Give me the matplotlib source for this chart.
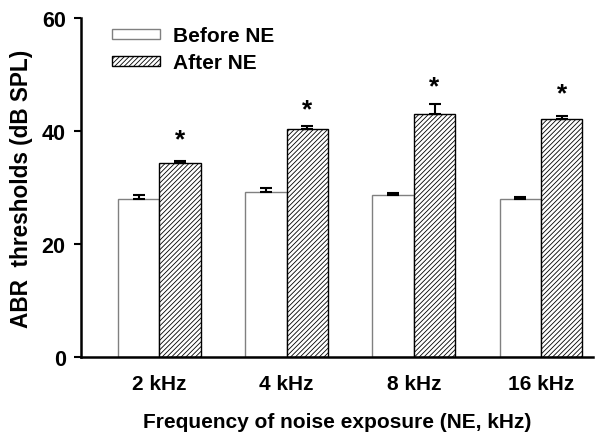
import matplotlib
matplotlib.use("Agg")
import matplotlib.pyplot as plt
import numpy as np

categories = ["2 kHz", "4 kHz", "8 kHz", "16 kHz"]
before_ne = [28.0, 29.3, 28.6, 27.9]
before_err = [0.7, 0.6, 0.4, 0.5]
after_ne = [34.3, 40.3, 43.0, 42.1]
after_err = [0.4, 0.6, 1.8, 0.6]
star_y = [38.6, 43.9, 48.0, 46.7]
yticks = [0, 20, 40, 60]

plt.rcParams['font.family'] = ['Liberation Sans', 'DejaVu Sans']
plt.rcParams['font.weight'] = 'bold'
plt.rcParams['hatch.linewidth'] = 0.6

fig = plt.figure(figsize=(6.0, 4.39), dpi=100)
ax = fig.add_axes([0.135, 0.1845, 0.853, 0.772])

x = np.arange(len(categories))
w = 0.326
ax.bar(x - w / 2, before_ne, w, color='white', edgecolor='#808080', linewidth=1.0,
       label='Before NE', zorder=2)
ax.bar(x + w / 2, after_ne, w, color='white', edgecolor='black', linewidth=1.0,
       hatch='///////', label='After NE', zorder=2)
ax.errorbar(x - w / 2, before_ne, yerr=[np.zeros(4), before_err], fmt='none',
            ecolor='black', elinewidth=1.5, capsize=4.2, capthick=1.5, zorder=3)
ax.errorbar(x + w / 2, after_ne, yerr=[np.zeros(4), after_err], fmt='none',
            ecolor='black', elinewidth=1.5, capsize=4.2, capthick=1.5, zorder=3)
for xi, yi in zip(x, star_y):
    ax.text(xi + w / 2, yi, '*', ha='center', va='center', fontsize=19,
            fontweight='bold')

ax.set_xlim(-0.615, 3.407)
ax.set_ylim(0, 60)
ax.set_yticks(yticks)
ax.set_xticks(x)
ax.set_xticklabels(categories)
ax.tick_params(axis='x', length=0, pad=12, labelsize=15)
ax.tick_params(axis='y', length=5, width=1.5, direction='out', labelsize=15.5, pad=6)
for s in ['top', 'right']:
    ax.spines[s].set_visible(False)
for s in ['left', 'bottom']:
    ax.spines[s].set_linewidth(1.8)

ax.set_xlabel('Frequency of noise exposure (NE, kHz)', fontsize=15,
              fontweight='bold', labelpad=14)
ax.set_ylabel('ABR  thresholds (dB SPL)', fontsize=16.3, fontweight='bold',
              labelpad=6)

leg = ax.legend(loc='upper left', bbox_to_anchor=(0.06, 0.976), frameon=False,
                prop={'size': 15, 'weight': 'bold'}, handlelength=2.3,
                handleheight=0.35, handletextpad=0.62, labelspacing=0.38,
                borderaxespad=0.0, borderpad=0.0)
fig.savefig('out.png', dpi=100)
